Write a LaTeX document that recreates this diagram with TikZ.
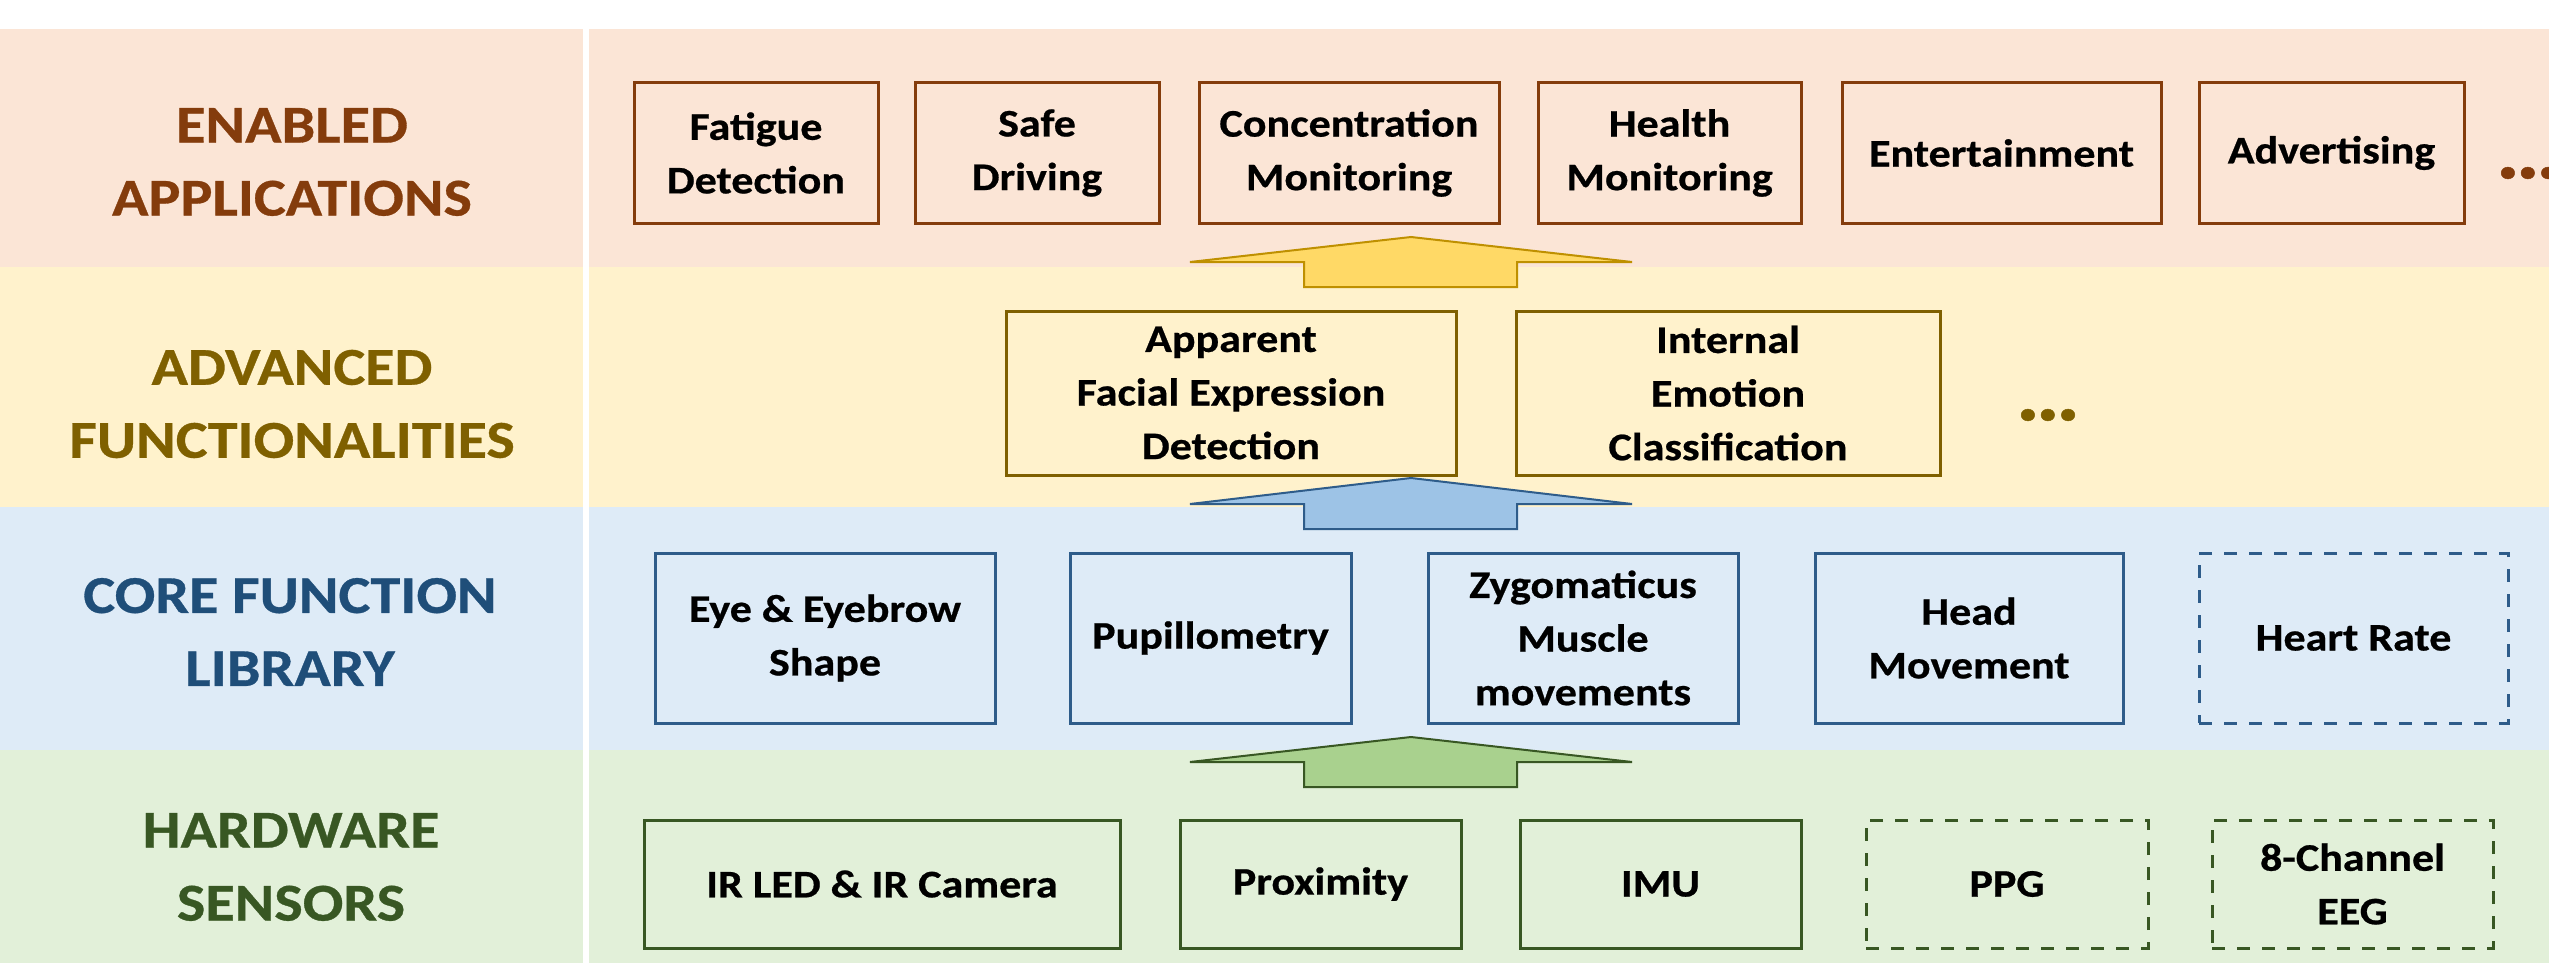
\documentclass[tikz,border=0pt]{standalone}
\usepackage{fontspec}
\setmainfont{Carlito}[FakeStretch=1.13, BoldFeatures={FakeBold=0.6}]
\definecolor{pinkbg}{HTML}{FBE5D6}
\definecolor{yellowbg}{HTML}{FFF2CC}
\definecolor{bluebg}{HTML}{DEEBF7}
\definecolor{greenbg}{HTML}{E2F0D9}
\definecolor{cbrown}{HTML}{843C0C}
\definecolor{colive}{HTML}{7F6000}
\definecolor{cnavy}{HTML}{1F4E79}
\definecolor{cnavyline}{HTML}{2E5C8A}
\definecolor{cgreen}{HTML}{385723}
\definecolor{yfill}{HTML}{FFD966}
\definecolor{yline}{HTML}{BF9000}
\definecolor{bfill}{HTML}{9DC3E6}
\definecolor{bline}{HTML}{2E5C8A}
\definecolor{gfill}{HTML}{A9D18E}
\definecolor{gline}{HTML}{385723}
\begin{document}
\begin{tikzpicture}[x=0.5pt,y=-0.5pt,
  lab/.style={font=\bfseries\fontsize{26.6}{36.5}\selectfont, align=center, inner sep=0pt},
  box/.style={draw, line width=1.5pt, inner sep=0pt, outer sep=0pt, text=black,
    font=\bfseries\fontsize{19.5}{26.8}\selectfont, align=center},
  dbox/.style={box, dash pattern=on 6.5pt off 6pt},
  appbox/.style={box, draw=cbrown, minimum height=70pt},
  advbox/.style={box, draw=colive, minimum height=82pt},
  corebox/.style={box, draw=cnavyline, minimum height=85pt},
  hwbox/.style={box, draw=cgreen, minimum height=64pt},
  dots/.style={font=\bfseries\fontsize{40}{40}\selectfont, inner sep=0pt},
  barrow/.style={line width=1pt, line join=miter}
]
\useasboundingbox (0,0) rectangle (2549,963);
% bands
\fill[pinkbg] (0,29) rectangle (2549,267);
\fill[yellowbg] (0,267) rectangle (2549,507);
\fill[bluebg] (0,507) rectangle (2549,750);
\fill[greenbg] (0,750) rectangle (2549,963);
\fill[white] (583,29) rectangle (589,963);

% layer labels
\node[lab, text=cbrown] (labapp) at (292,162) {ENABLED\\APPLICATIONS};
\node[lab, text=colive] (labadv) at (292,404) {ADVANCED\\FUNCTIONALITIES};
\node[lab, text=cnavy] (labcore) at (290,632) {CORE FUNCTION\\LIBRARY};
\node[lab, text=cgreen] (labhw) at (291,867) {HARDWARE\\SENSORS};

% enabled applications
\node[appbox, minimum width=122pt] (fat) at (756,153) {Fatigue\\Detection};
\node[appbox, minimum width=122pt] (safe) at (1037,153) {Safe\\Driving};
\node[appbox, minimum width=150pt] (conc) at (1349,153) {Concentration\\Monitoring};
\node[appbox, minimum width=131.5pt] (health) at (1669.5,153) {Health\\Monitoring};
\node[appbox, minimum width=159.5pt] (ent) at (2001.5,153) {Entertainment};
\node[appbox, minimum width=132.5pt] (advert) at (2331.5,153) {Advertising};
\node[dots, text=cbrown] (dotsapp) at (2528,173) {…};

% advanced functionalities
\node[advbox, minimum width=225pt] (facial) at (1231,393) {Apparent\\Facial Expression\\Detection};
\node[advbox, minimum width=212pt] (emotion) at (1728,393) {Internal\\Emotion\\Classification};
\node[dots, text=colive] (dotsadv) at (2048,415) {…};

% core function library
\node[corebox, minimum width=170pt] (eye) at (825,638) {Eye \& Eyebrow\\Shape};
\node[corebox, minimum width=140.5pt] (pup) at (1210.5,638) {Pupillometry};
\node[corebox, minimum width=155pt] (zyg) at (1583,638) {Zygomaticus\\Muscle\\movements};
\node[corebox, minimum width=154pt] (headm) at (1969,638) {Head\\Movement};
\node[corebox, dbox, draw=cnavyline, minimum width=154.5pt] (hr) at (2353.5,638) {Heart Rate};

% hardware sensors
\node[hwbox, minimum width=238pt] (ir) at (882,884) {IR LED \& IR Camera};
\node[hwbox, minimum width=140.5pt] (prox) at (1320.5,884) {Proximity};
\node[hwbox, minimum width=140.5pt] (imu) at (1660.5,884) {IMU};
\node[hwbox, dbox, draw=cgreen, minimum width=141pt] (ppg) at (2007,884) {PPG};
\node[hwbox, dbox, draw=cgreen, minimum width=140.5pt] (eeg) at (2352.5,884) {8-Channel\\EEG};

% block arrows between layers
\draw[barrow, draw=yline, fill=yfill] (1411,237) -- (1632,262) -- (1517,262) -- (1517,287) -- (1304,287) -- (1304,262) -- (1190,262) -- cycle;
\draw[barrow, draw=bline, fill=bfill] (1411,478) -- (1632,504) -- (1517,504) -- (1517,529) -- (1304,529) -- (1304,504) -- (1190,504) -- cycle;
\draw[barrow, draw=gline, fill=gfill] (1411,737) -- (1632,762) -- (1517,762) -- (1517,787) -- (1304,787) -- (1304,762) -- (1190,762) -- cycle;
\end{tikzpicture}
\end{document}
